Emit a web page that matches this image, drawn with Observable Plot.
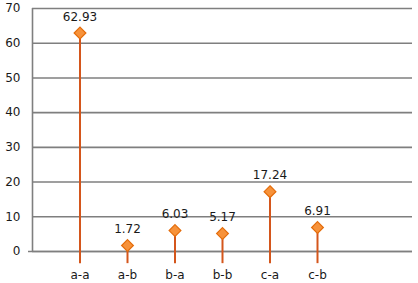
<!DOCTYPE html>
<html>
<head>
<meta charset="utf-8">
<script src="https://cdn.jsdelivr.net/npm/d3@7"></script>
<script src="https://cdn.jsdelivr.net/npm/@observablehq/plot@0.6"></script>
<style>
  html, body { margin: 0; padding: 0; background: #fff; }
  #chart svg { display: block; }
</style>
</head>
<body>
<div id="chart"></div>
<script>
const categories = ["a-a", "a-b", "b-a", "b-b", "c-a", "c-b"];
const values = [62.93, 1.72, 6.03, 5.17, 17.24, 6.91];
const positions = [1, 2, 3, 4, 5, 6];
const yTicks = [0, 10, 20, 30, 40, 50, 60, 70];

const data = categories.map((c, i) => ({cat: c, pos: positions[i], value: values[i]}));

const chart = Plot.plot({
  width: 418,
  height: 283,
  marginTop: 8,
  marginBottom: 32,
  marginLeft: 32,
  marginRight: 6,
  style: {fontFamily: "DejaVu Sans, Verdana, sans-serif", fontSize: "12px", color: "#222", background: "#fff"},
  x: {domain: [0, 8]},
  y: {domain: [0, 70]},
  marks: [
    Plot.gridY(yTicks, {stroke: "#7f7f7f", strokeOpacity: 1, strokeWidth: 1.6}),
    Plot.ruleY([0], {stroke: "#7f7f7f", strokeWidth: 1.6, insetLeft: -4}),
    Plot.ruleX([0], {stroke: "#7f7f7f", strokeWidth: 1.6}),
    Plot.axisY(yTicks, {tickSize: 0, tickPadding: 12, fontSize: 12, fill: "#1a1a1a", label: null}),
    Plot.axisX(positions, {tickSize: 0, tickPadding: 19, fontSize: 12, fill: "#1a1a1a", label: null,
      tickFormat: d => categories[d - 1]}),
    Plot.ruleX(data, {x: "pos", y1: -3.5, y2: "value", stroke: "#D4561C", strokeWidth: 2}),
    Plot.dot(data, {x: "pos", y: "value", symbol: "diamond2", r: 5.3, fill: "#F7923A", stroke: "#E46C0A", strokeWidth: 1.2}),
    Plot.text(data, {x: "pos", y: "value", text: d => d.value.toFixed(2), dy: -16, fontSize: 12, fill: "#1a1a1a"})
  ]
});
document.getElementById("chart").appendChild(chart);
</script>
</body>
</html>
